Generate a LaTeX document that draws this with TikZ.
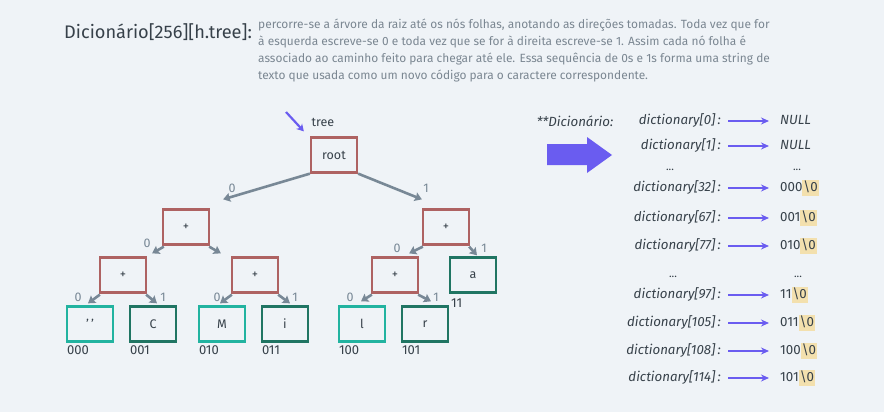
\documentclass[tikz,border=0pt]{standalone}
\usepackage{fontspec}
\setmainfont{Fira Sans}
\usetikzlibrary{arrows.meta}
\definecolor{bg}{HTML}{EFF3F7}
\definecolor{redbox}{HTML}{AE6262}
\definecolor{tealbox}{HTML}{22B3A0}
\definecolor{greenbox}{HTML}{207563}
\definecolor{edgegray}{HTML}{788896}
\definecolor{purp}{HTML}{6A5CF0}
\definecolor{txt}{HTML}{37414A}
\definecolor{desc}{HTML}{7B8792}
\definecolor{hl}{HTML}{F3E0AE}
\newcommand{\nulchar}{{\setlength{\fboxsep}{1pt}\colorbox{hl}{\rule[-3pt]{0pt}{14pt}\textbackslash0}}}
\tikzset{
  box/.style={draw, line width=2.3pt, minimum width=46pt, minimum height=35pt, inner sep=0pt,
     text=txt, font=\fontsize{12.5}{14}\selectfont},
  inner/.style={box, draw=redbox},
  leafA/.style={box, draw=tealbox},
  leafB/.style={box, draw=greenbox},
  edge/.style={draw=edgegray, line width=2.6pt, -{Stealth[length=7pt,width=9pt,inset=1pt]}},
  elab/.style={text=edgegray, font=\fontsize{12.5}{14}\selectfont, inner sep=0pt},
  code/.style={text=txt, font=\fontsize{13}{15}\selectfont, inner sep=0pt, anchor=west},
  dlab/.style={text=txt, font=\fontsize{13.3}{15}\selectfont\itshape, inner sep=0pt, anchor=east, text height=10pt, text depth=3pt},
  dval/.style={text=txt, font=\fontsize{13.3}{15}\selectfont, inner sep=0pt, anchor=west, text height=10pt, text depth=3pt},
  darr/.style={draw=purp, line width=2pt, -{Stealth[length=8pt,width=7pt]}},
  dots/.style={text=txt, font=\fontsize{11}{13}\selectfont, inner sep=0pt}
}
\begin{document}
\begin{tikzpicture}[x=1pt,y=-1pt]
\useasboundingbox (0,0) rectangle (884,412);
\fill[bg] (0,0) rectangle (884,412);

% title and description
\node[anchor=west, inner sep=0pt, text=txt, font=\fontsize{18.2}{20}\selectfont] (title) at (64,32) {Dicionário[256][h.tree]:};
\node[anchor=north west, inner sep=0pt, align=left, text=desc, font=\fontsize{11.9}{17}\selectfont] (descr) at (258,19)
 {percorre-se a árvore da raiz até os nós folhas, anotando as direções tomadas. Toda vez que for\\
  à esquerda escreve-se 0 e toda vez que se for à direita escreve-se 1. Assim cada nó folha é\\
  associado ao caminho feito para chegar até ele. Essa sequência de 0s e 1s forma uma string de\\
  texto que usada como um novo código para o caractere correspondente.};

% tree
\node[inner] (root) at (334,155) {root};
\node[text=txt, font=\fontsize{12.5}{14}\selectfont, inner sep=0pt] (treelab) at (323,122) {tree};
\coordinate (treestart) at (286,112);
\draw[draw=purp, line width=2.2pt, -{Stealth[length=7pt,width=8pt]}] (treestart) -- ([shift={(-6,-5)}]root.north west);

\node[inner] (L) at (186,227) {+};
\node[inner] (R) at (446,227) {+};
\node[inner] (LL) at (123,275) {+};
\node[inner] (LR) at (255,275) {+};
\node[inner] (RL) at (395,275) {+};
\node[leafB] (a) at (473,275) {a};

\node[leafA] (sp) at (90,324) {'\,'};
\node[leafB] (C) at (153,324) {C};
\node[leafA] (M) at (222,324) {M};
\node[leafB] (i) at (285,324) {i};
\node[leafA] (l) at (362,324) {l};
\node[leafB] (r) at (425,324) {r};

% edges
\draw[edge] (root.south west) -- ([shift={(13,-9)}]L.north east);
\draw[edge] (root.south east) -- ([shift={(0,-9)}]R.north west);
\draw[edge] ([shift={(2,1)}]L.south west) -- ([shift={(5,-3)}]LL.north east);
\draw[edge] ([shift={(-1,1)}]L.south east) -- ([shift={(-10,-3)}]LR.north west);
\draw[edge] ([shift={(1,1)}]R.south west) -- ([shift={(-10,-3)}]RL.north east);
\draw[edge] ([shift={(-1,1)}]R.south east) -- ([shift={(4,-1)}]a.north);
\draw[edge] ([shift={(1,1)}]LL.south west) -- ([shift={(-2,-2)}]sp.north);
\draw[edge] ([shift={(-1,1)}]LL.south east) -- ([shift={(4,-2)}]C.north);
\draw[edge] ([shift={(1,1)}]LR.south west) -- ([shift={(-2,-2)}]M.north);
\draw[edge] ([shift={(-1,1)}]LR.south east) -- ([shift={(5,-2)}]i.north);
\draw[edge] ([shift={(1,1)}]RL.south west) -- ([shift={(-1,-4)}]l.north);
\draw[edge] ([shift={(-1,1)}]RL.south east) -- ([shift={(6,-4)}]r.north);

% edge labels
\node[elab] (e1) at (232,188) {0};
\node[elab] (e2) at (426,188) {1};
\node[elab] (e3) at (147,243) {0};
\node[elab] (e4) at (397,248) {0};
\node[elab] (e5) at (484,248) {1};
\node[elab] (e6) at (78,297) {0};
\node[elab] (e7) at (163,297) {1};
\node[elab] (e8) at (217,297) {0};
\node[elab] (e9) at (295,297) {1};
\node[elab] (e10) at (350,297) {0};
\node[elab] (e11) at (436,297) {1};

% codes
\node[code] (c1) at ([shift={(1,8)}]sp.south west) {000};
\node[code] (c2) at ([shift={(1,8)}]C.south west) {001};
\node[code] (c3) at ([shift={(1,8)}]M.south west) {010};
\node[code] (c4) at ([shift={(1,8)}]i.south west) {011};
\node[code] (c5) at ([shift={(1,8)}]l.south west) {100};
\node[code] (c6) at ([shift={(1,8)}]r.south west) {101};
\node[code] (c7) at ([shift={(2,9)}]a.south west) {11};

% dictionary
\node[text=txt, font=\fontsize{13.3}{15}\selectfont\itshape, inner sep=0pt] (dtitle) at (575,121) {**Dicionário:};
\fill[purp] (547,144) -- (587,144) -- (587,137) -- (612,155) -- (587,173) -- (587,165) -- (547,165) -- cycle;

\foreach \y/\i/\v [count=\k] in {121/0/{\textit{NULL}}, 146/1/{\textit{NULL}}, 188/32/{000\nulchar},
   218/67/{001\nulchar}, 246/77/{010\nulchar}, 295/97/{11\nulchar}, 323/105/{011\nulchar},
   351/108/{100\nulchar}, 378/114/{101\nulchar}}{
  \node[dlab] (lab\k) at (721,\y) {dictionary[\i]\,:};
  \node[dval] (val\k) at (780,\y) {\v};
  \draw[darr] ([xshift=7pt]lab\k.east) -- ([xshift=-11pt]val\k.west);
}
\node[dots] (dl1) at (670,170) {...};
\node[dots] (dr1) at (797,170) {...};
\node[dots] (dl2) at (673,277) {...};
\node[dots] (dr2) at (798,277) {...};
\end{tikzpicture}
\end{document}
